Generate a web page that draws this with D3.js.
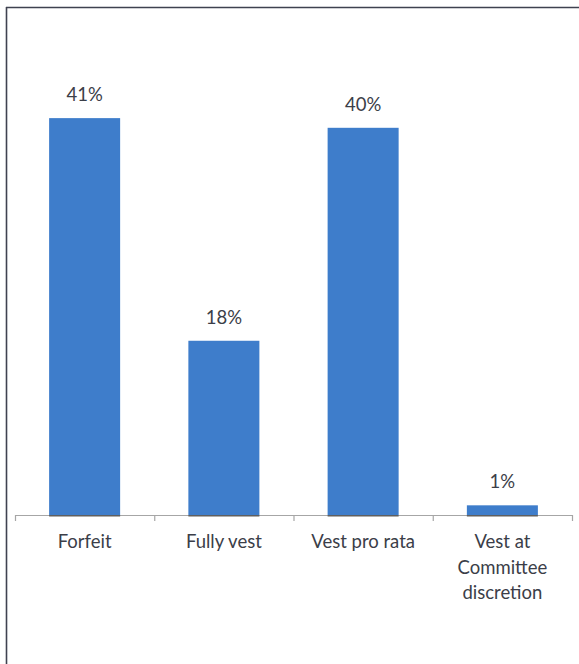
<!DOCTYPE html>
<html>
<head>
<meta charset="utf-8">
<script src="https://cdn.jsdelivr.net/npm/d3@7"></script>
<style>
  html, body { margin: 0; padding: 0; background: #fff; overflow: hidden; }
  svg { display: block; }
</style>
</head>
<body>
<svg id="chart" width="579" height="664"></svg>
<script>
// Treatment of unvested awards
const categories = ["Forfeit", "Fully vest", "Vest pro rata", "Vest at Committee discretion"];
const categoryLines = [["Forfeit"], ["Fully vest"], ["Vest pro rata"], ["Vest at", "Committee", "discretion"]];
const values = [41, 18, 40, 1];
const valueLabels = ["41%", "18%", "40%", "1%"];

const svg = d3.select("#chart");
const W = 579, H = 664;
const baseY = 515, left = 15, right = 572;

// outer frame: only the left and top edges fall inside the view
const frame = svg.append("g")
  .attr("stroke", "#3f4250")
  .attr("stroke-width", 1.6);
frame.append("line").attr("x1", 6.5).attr("x2", 6.5).attr("y1", 7).attr("y2", H);
frame.append("line").attr("x1", 6).attr("x2", W).attr("y1", 7.5).attr("y2", 7.5);

const x = d3.scaleBand()
  .domain(categories)
  .range([left, right])
  .paddingInner(0.49)
  .paddingOuter(0.245);

const y = d3.scaleLinear()
  .domain([0, 45])
  .range([baseY, baseY - 45 * 9.68]);

const textColor = "#3b3e48";
const font = "Lato, 'Open Sans', sans-serif";
const fontSize = 18.5;

// bars
svg.append("g").selectAll("rect")
  .data(values)
  .join("rect")
  .attr("x", (d, i) => x(categories[i]))
  .attr("y", d => y(d))
  .attr("width", x.bandwidth())
  .attr("height", d => baseY - y(d))
  .attr("fill", "#3e7dcb");

// category axis
const step = x.step();
const boundaries = d3.range(categories.length + 1).map(i => left + i * step);
const axis = svg.append("g");
axis.append("line")
  .attr("x1", left).attr("x2", right)
  .attr("y1", baseY + 0.5).attr("y2", baseY + 0.5)
  .attr("stroke", "#a6a6a6").attr("stroke-width", 1.2);
axis.selectAll("line.tick")
  .data(boundaries)
  .join("line")
  .attr("class", "tick")
  .attr("x1", d => d + 0.5).attr("x2", d => d + 0.5)
  .attr("y1", baseY).attr("y2", baseY + 6)
  .attr("stroke", "#a6a6a6").attr("stroke-width", 1.2);
// darker base edge under each bar
axis.selectAll("line.base")
  .data(values)
  .join("line")
  .attr("class", "base")
  .attr("x1", (d, i) => x(categories[i]))
  .attr("x2", (d, i) => x(categories[i]) + x.bandwidth())
  .attr("y1", baseY + 0.8).attr("y2", baseY + 0.8)
  .attr("stroke", "#5f5f5f").attr("stroke-width", 1.6);

// value labels
svg.append("g").selectAll("text")
  .data(values)
  .join("text")
  .attr("x", (d, i) => x(categories[i]) + x.bandwidth() / 2)
  .attr("y", d => y(d) - 17)
  .attr("text-anchor", "middle")
  .attr("font-family", font)
  .attr("font-size", fontSize)
  .attr("fill", textColor)
  .text((d, i) => valueLabels[i]);

// category labels
const cat = svg.append("g").selectAll("text")
  .data(categories)
  .join("text")
  .attr("x", d => x(d) + x.bandwidth() / 2)
  .attr("y", 548)
  .attr("text-anchor", "middle")
  .attr("font-family", font)
  .attr("font-size", fontSize)
  .attr("fill", textColor);
cat.selectAll("tspan")
  .data((d, i) => categoryLines[i])
  .join("tspan")
  .attr("x", function () { return d3.select(this.parentNode).attr("x"); })
  .attr("dy", (d, j) => j === 0 ? 0 : 25.5)
  .text(d => d);
</script>
</body>
</html>
